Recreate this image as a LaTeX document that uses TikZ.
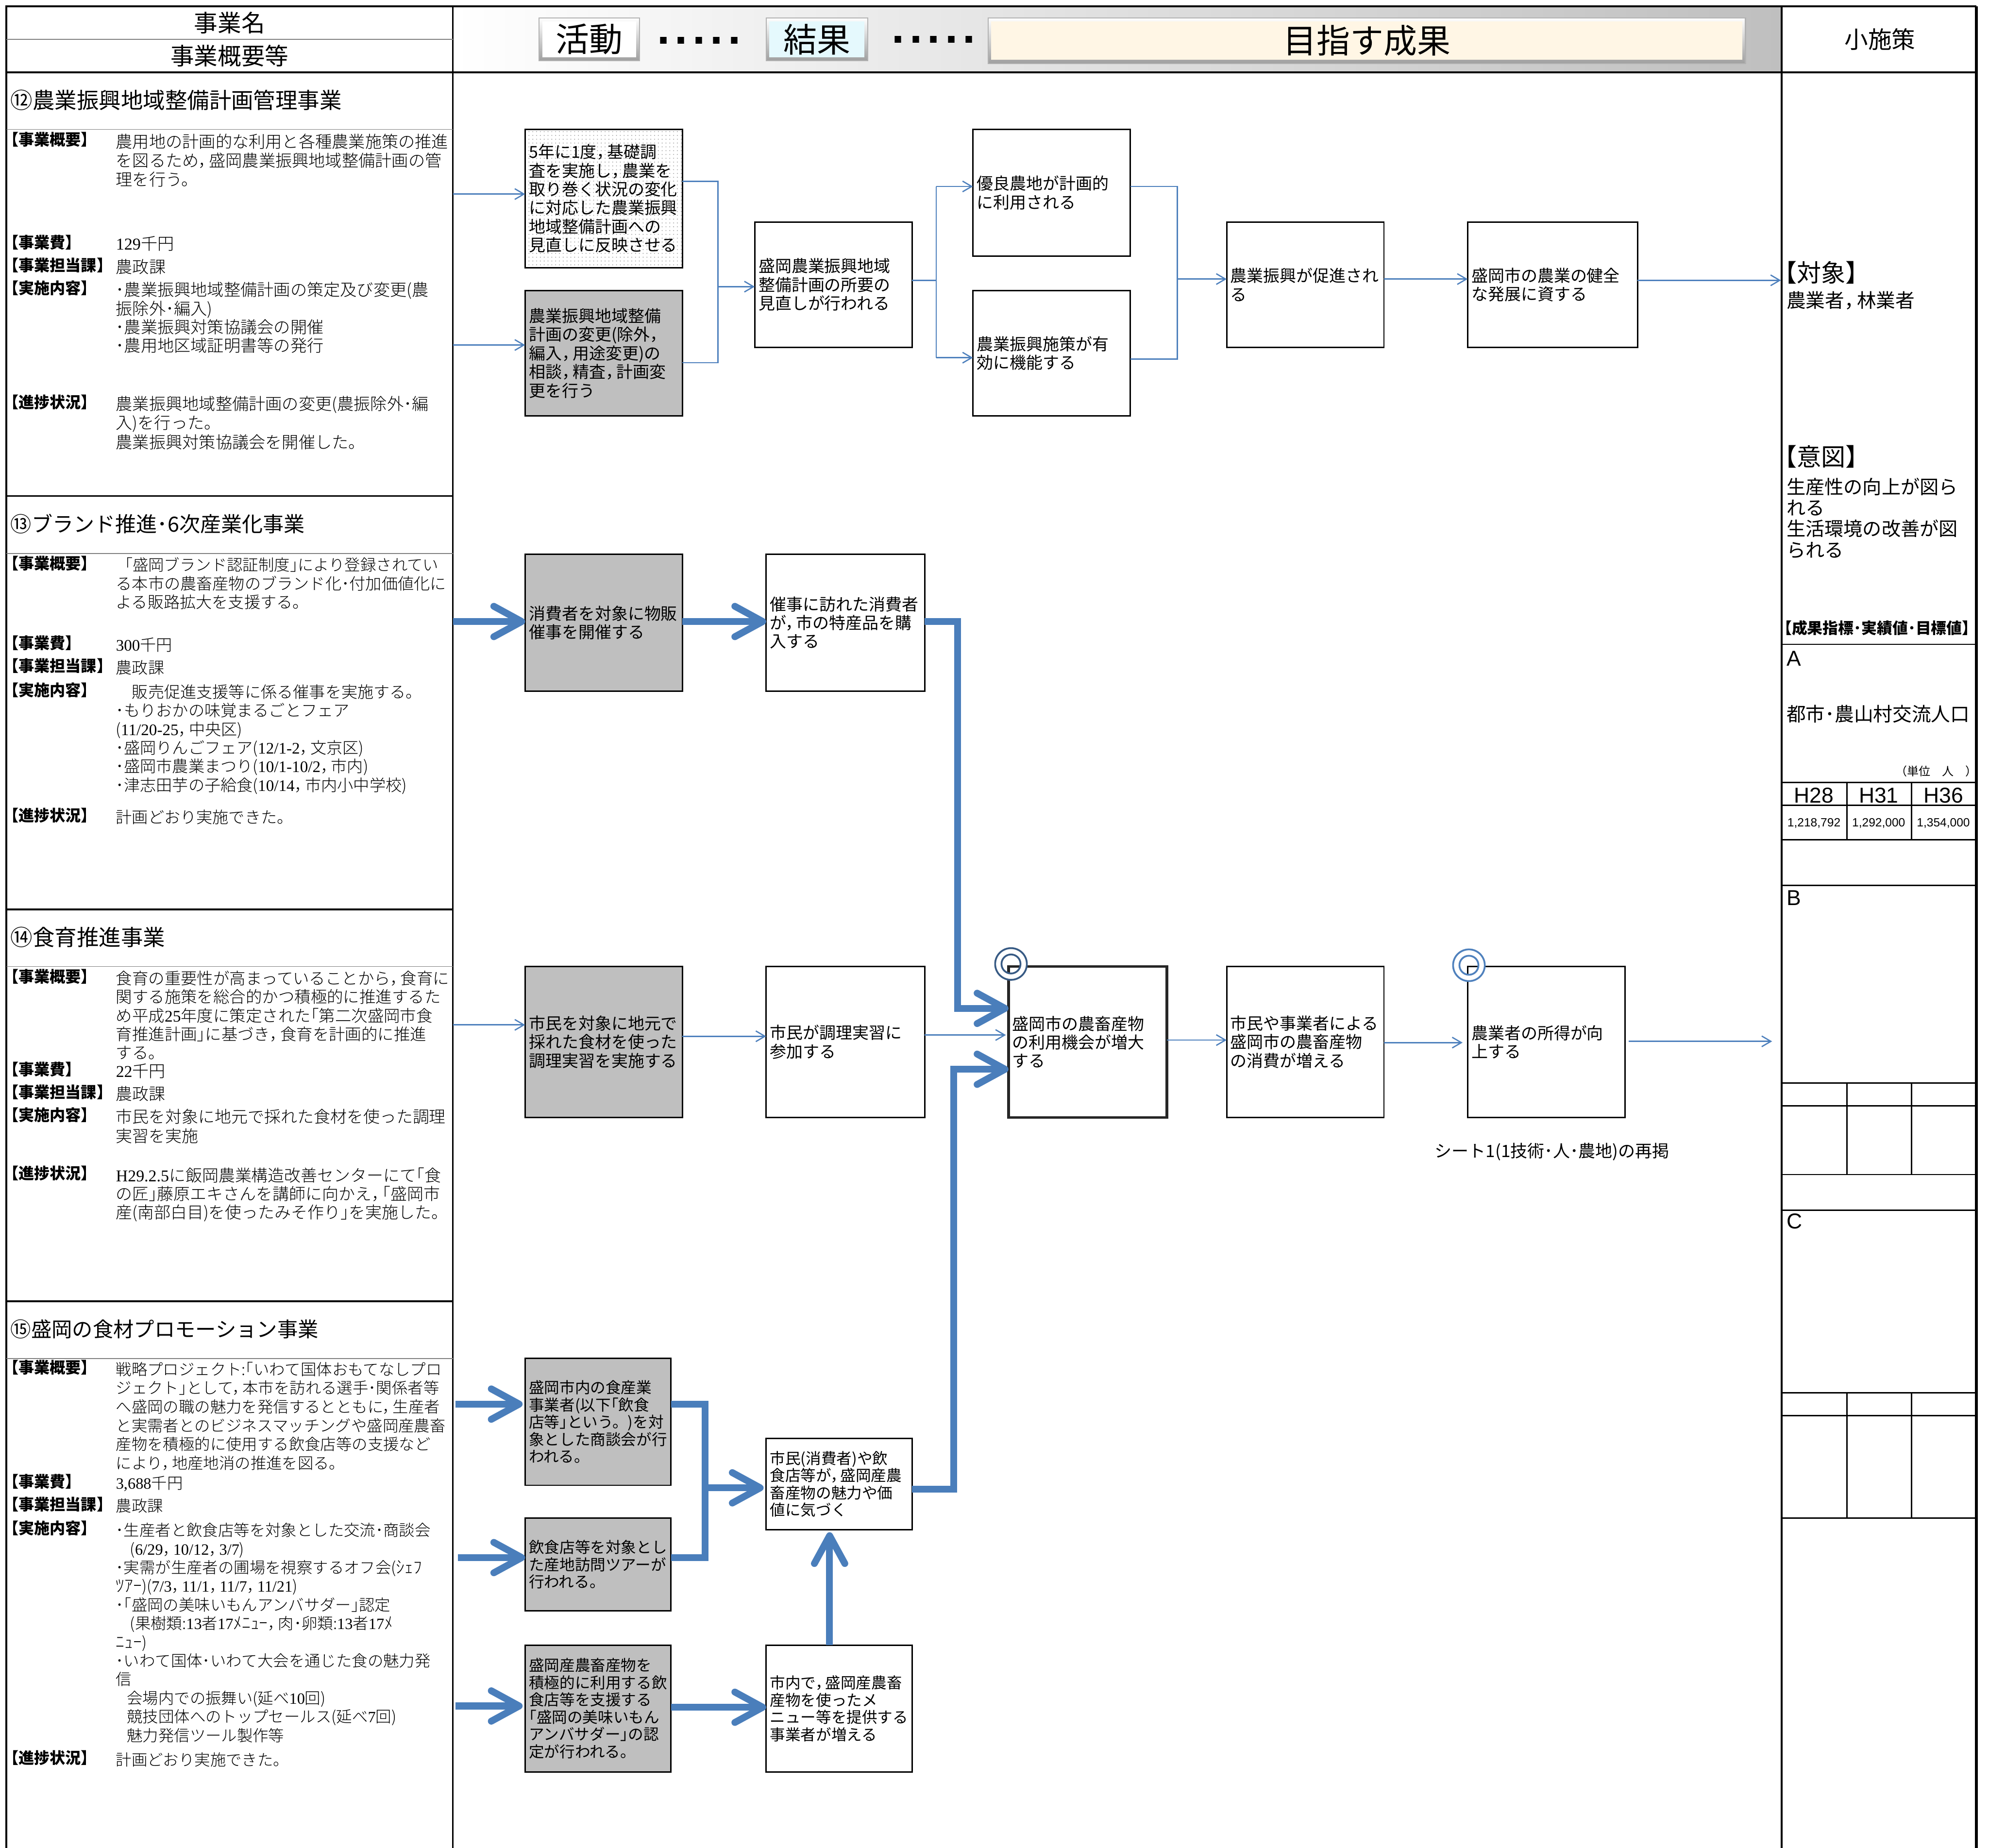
\documentclass[tikz,border=0pt]{standalone}
\usepackage{fontspec}
\usetikzlibrary{arrows.meta,patterns.meta,calc}
\setmainfont{Noto Sans CJK JP}
\newfontfamily\lightf{Noto Sans CJK JP Light}
\newfontfamily\serifd{Liberation Serif}
\newfontfamily\arial{Liberation Sans}
\definecolor{flowblue}{HTML}{4F81BD}
\definecolor{heavyblue}{HTML}{4A7EBB}
\definecolor{boxgray}{HTML}{BFBFBF}
\definecolor{btnblue}{HTML}{E5F9FD}
\definecolor{btncream}{HTML}{FFF6E5}
\catcode"FF0C=13
\def，{\char"FF0C \kern-.35em\relax}
\newcommand\fs[2]{\fontsize{#1}{#2}\selectfont\lineskiplimit=-6pt\relax}
\newcommand\dg[1]{{\serifd #1}}
\newcommand\hw[1]{{\fontsize{6.8}{7}\selectfont #1}}
\tikzset{
  flowbox/.style={draw=black,line width=0.55pt,inner xsep=1.5pt,inner ysep=0pt,align=left,outer sep=0pt,font=\fs{6.5}{7.35}},
  grayfill/.style={fill=boxgray},
  dotfill/.style={pattern={Dots[distance=1.5pt,radius=0.22pt]},pattern color=gray!70},
  smallbox/.style={font=\fs{6.05}{6.8}},
  hubbox/.style={line width=1.1pt,draw=black!85},
  thinline/.style={draw=flowblue,line width=0.5pt},
  thinarrow/.style={thinline,-{Straight Barb[length=3.6pt,width=4.2pt]}},
  heavyline/.style={draw=heavyblue,line width=2.7pt,miter limit=10},
  heavyarrow/.style={heavyline,-{Straight Barb[length=11pt,width=12pt,round]}},
  rule/.style={draw=black,line width=0.55pt},
  thickrule/.style={draw=black,line width=0.7pt},
  softrule/.style={draw=gray,line width=0.35pt},
  lab/.style={inner sep=0pt,anchor=west,font=\bfseries\fs{6.15}{7}},
  ttl/.style={inner sep=0pt,anchor=west,font=\fs{8.7}{10}},
  txt/.style={inner sep=0pt,anchor=north west,align=left},
  side/.style={inner sep=0pt,anchor=west,font=\fs{7.4}{8.3}},
  heada/.style={inner sep=0pt,font=\fs{9.3}{11}},
  ring/.style={line width=0.7pt},
}
\newcommand\bx[7][]{\pgfmathsetmacro\tw{(#5-#3)*0.5-3}%
  \node[flowbox,#1,anchor=north west,minimum width={(#5-#3)*0.5pt},minimum height={(#6-#4)*0.5pt},text width=\tw pt] (#2) at (#3,#4) {#7};}
% name, x, y(first line centre), size, pitch, text
\newcommand\tx[6]{\pgfmathsetmacro\tt{#3-0.76*#4}\pgfmathsetmacro\pp{#5*0.5}%
  \node[txt,font=\lightf\fs{#4}{\pp pt}] (#1) at (#2,\tt) {#6};}
\newcommand\txs[6]{\pgfmathsetmacro\tt{#3-0.76*#4}\pgfmathsetmacro\pp{#5*0.5}%
  \node[txt,font=\fs{#4}{\pp pt}] (#1) at (#2,\tt) {#6};}
\newcommand\btn[7]{%
  \path[draw=gray!60,line width=0.4pt,top color=white,bottom color=gray!75] (#2,#3) rectangle (#4,#5);
  \fill[#6] ({#2+2.5},{#3+3}) rectangle ({#4-2.5},{#5-3});
  \node[inner sep=0pt,font=\fs{13.2}{15}] (#1) at ({(#2+#4)/2},{(#3+#5)/2}) {#7};}
\begin{document}
\begin{tikzpicture}[x=0.5pt,y=-0.5pt]
\useasboundingbox (0,0) rectangle (1568,1456.8);
\fill[white] (0,0) rectangle (1568,1456.8);
% header band
\shade[left color=white,right color=boxgray] (357,5) rectangle (1404.5,57);
\btn{hk}{425}{14}{504}{48}{white}{活動}
\btn{hr}{604}{14}{684}{48}{btnblue}{結果}
\btn{hg}{779}{14}{1376}{50}{btncream}{目指す成果}
\node[inner sep=0pt,anchor=base,font=\arial\bfseries\fontsize{18}{20}\selectfont] (d1) at (551,34.8) {.\kern2pt.\kern2pt.\kern2pt.\kern2pt.};
\node[inner sep=0pt,anchor=base,font=\arial\bfseries\fontsize{18}{20}\selectfont] (d2) at (736,33.8) {.\kern2pt.\kern2pt.\kern2pt.\kern2pt.};
% frame
\draw[thickrule] (5,1456.8) -- (5,5) -- (1558,5);
\draw[thickrule] (5,57) -- (1558,57);
\draw[thickrule] (357,5) -- (357,1456.8);
\draw[thickrule] (1404.5,5) -- (1404.5,1456.8);
\draw[draw=black,line width=1pt] (1558,5) -- (1558,1456.8);
\draw[softrule] (5,31) -- (357,31);
\foreach \yy in {391,717,1026} {\draw[thickrule] (5,\yy) -- (357,\yy);}
\foreach \yy in {102,436.5,762,1071} {\draw[softrule] (5,\yy) -- (357,\yy);}
\node[heada] (h1) at (181,18) {事業名};
\node[heada] (h2) at (181,44) {事業概要等};
\node[heada] (h3) at (1482,31) {小施策};

% section 12
\node[ttl] (t12) at (8,79) {⑫農業振興地域整備計画管理事業};
\node[lab] (a1) at (2,110) {【事業概要】};
\tx{b1}{91}{110}{6.55}{15}{農用地の計画的な利用と各種農業施策の推進\\を図るため，盛岡農業振興地域整備計画の管\\理を行う。}
\node[lab] (a2) at (2,191) {【事業費】};
\tx{b2}{91}{191}{6.55}{15}{\dg{129}千円}
\node[lab] (a3) at (2,209) {【事業担当課】};
\tx{b3}{91}{209}{6.55}{15}{農政課}
\node[lab] (a4) at (2,227) {【実施内容】};
\tx{b4}{91}{227}{6.55}{14.7}{･農業振興地域整備計画の策定及び変更(農\\振除外･編入)\\･農業振興対策協議会の開催\\･農用地区域証明書等の発行}
\node[lab] (a5) at (2,317) {【進捗状況】};
\tx{b5}{91}{317}{6.55}{15}{農業振興地域整備計画の変更(農振除外･編\\入)を行った。\\農業振興対策協議会を開催した。}

% section 13
\node[ttl,font=\fs{8.25}{10}] (t13) at (8,413) {⑬ブランド推進･6次産業化事業};
\node[lab] (a6) at (2,444) {【事業概要】};
\tx{b6}{91}{444}{6.35}{14.7}{\kern.55em{\fontsize{6.2}{7}\selectfont ｢盛岡ブランド認証制度｣により登録されてい}\\る本市の農畜産物のブランド化･付加価値化に\\よる販路拡大を支援する。}
\node[lab] (a7) at (2,507) {【事業費】};
\tx{b7}{91}{507}{6.35}{15}{\dg{300}千円}
\node[lab] (a8) at (2,525) {【事業担当課】};
\tx{b8}{91}{525}{6.35}{15}{農政課}
\node[lab] (a9) at (2,544) {【実施内容】};
\tx{b9}{91}{544}{6.35}{14.7}{　販売促進支援等に係る催事を実施する。\\･もりおかの味覚まるごとフェア\\(\dg{11/20-25}，中央区)\\･盛岡りんごフェア(\dg{12/1-2}，文京区)\\･盛岡市農業まつり(\dg{10/1-10/2}，市内)\\･津志田芋の子給食(\dg{10/14}，市内小中学校)}
\node[lab] (a10) at (2,643) {【進捗状況】};
\tx{b10}{91}{643}{6.35}{15}{計画どおり実施できた。}

% section 14
\node[ttl] (t14) at (8,739) {⑭食育推進事業};
\node[lab] (a11) at (2,770) {【事業概要】};
\tx{b11}{91}{770}{6.4}{14.6}{食育の重要性が高まっていることから，食育に\\関する施策を総合的かつ積極的に推進するた\\め平成\dg{25}年度に策定された｢第二次盛岡市食\\育推進計画｣に基づき，食育を計画的に推進\\する。}
\node[lab] (a12) at (2,843) {【事業費】};
\tx{b12}{91}{843}{6.5}{15}{\dg{22}千円}
\node[lab] (a13) at (2,861) {【事業担当課】};
\tx{b13}{91}{861}{6.5}{15}{農政課}
\node[lab] (a14) at (2,879) {【実施内容】};
\tx{b14}{91}{879}{6.5}{15}{市民を対象に地元で採れた食材を使った調理\\実習を実施}
\node[lab] (a15) at (2,925) {【進捗状況】};
\tx{b15}{91}{925}{6.5}{14.6}{\dg{H29.2.5}に飯岡農業構造改善センターにて｢食\\の匠｣藤原エキさんを講師に向かえ，｢盛岡市\\産(南部白目)を使ったみそ作り｣を実施した。}

% section 15
\node[ttl,font=\fs{8.1}{10}] (t15) at (8,1048) {⑮盛岡の食材プロモーション事業};
\node[lab] (a16) at (2,1078) {【事業概要】};
\tx{b16}{91}{1078}{6.2}{14.8}{戦略プロジェクト:｢いわて国体おもてなしプロ\\ジェクト｣として，本市を訪れる選手･関係者等\\へ盛岡の職の魅力を発信するとともに，生産者\\と実需者とのビジネスマッチングや盛岡産農畜\\産物を積極的に使用する飲食店等の支援など\\により，地産地消の推進を図る。}
\node[lab] (a17) at (2,1168) {【事業費】};
\tx{b17}{91}{1168}{6.2}{15}{\dg{3,688}千円}
\node[lab] (a18) at (2,1186) {【事業担当課】};
\tx{b18}{91}{1186}{6.2}{15}{農政課}
\node[lab] (a19) at (2,1205) {【実施内容】};
\tx{b19}{91}{1205}{6.2}{14.7}{･生産者と飲食店等を対象とした交流･商談会\\\kern.9em(\dg{6/29}，\dg{10/12}，\dg{3/7})\\･実需が生産者の圃場を視察するオフ会(\hw{ｼｪﾌ}\\\hw{ﾂｱｰ})(\dg{7/3}，\dg{11/1}，\dg{11/7}，\dg{11/21})\\･｢盛岡の美味いもんアンバサダー｣認定\\\kern.9em(果樹類:\dg{13}者\dg{17}\hw{ﾒﾆｭｰ}，肉･卵類:\dg{13}者\dg{17}\hw{ﾒ}\\\hw{ﾆｭｰ})\\･いわて国体･いわて大会を通じた食の魅力発\\信\\\kern.7em 会場内での振舞い(延べ\dg{10}回)\\\kern.7em 競技団体へのトップセールス(延べ\dg{7}回)\\\kern.7em 魅力発信ツール製作等}
\node[lab] (a20) at (2,1386) {【進捗状況】};
\tx{b20}{91}{1386}{6.2}{15}{計画どおり実施できた。}

% flow boxes
\bx[dotfill]{A1}{414}{102}{538}{211}{5年に1度，基礎調\\査を実施し，農業を\\取り巻く状況の変化\\に対応した農業振興\\地域整備計画への\\見直しに反映させる}
\bx[grayfill]{A2}{414}{229}{538}{328}{農業振興地域整備\\計画の変更(除外，\\編入，用途変更)の\\相談，精査，計画変\\更を行う}
\bx{A3}{595}{175}{719}{274}{盛岡農業振興地域\\整備計画の所要の\\見直しが行われる}
\bx{A4}{767}{102}{891}{202}{優良農地が計画的\\に利用される}
\bx{A5}{767}{229}{891}{328}{農業振興施策が有\\効に機能する}
\bx{A6}{967}{175}{1091}{274}{農業振興が促進され\\る}
\bx{A7}{1157}{175}{1291}{274}{盛岡市の農業の健全\\な発展に資する}
\bx[grayfill]{B1}{414}{437}{538}{545}{消費者を対象に物販\\催事を開催する}
\bx{B2}{604}{437}{729}{545}{催事に訪れた消費者\\が，市の特産品を購\\入する}
\bx[grayfill]{C1}{414}{762}{538}{881}{市民を対象に地元で\\採れた食材を使った\\調理実習を実施する}
\bx{C2}{604}{762}{729}{881}{市民が調理実習に\\参加する}
\bx[hubbox]{D}{795}{762}{920}{881}{盛岡市の農畜産物\\の利用機会が増大\\する}
\bx{E}{967}{762}{1091}{881}{市民や事業者による\\盛岡市の農畜産物\\の消費が増える}
\bx{F}{1157}{762}{1281}{881}{農業者の所得が向\\上する}
\bx[grayfill,smallbox]{G1}{414}{1071}{529}{1171}{盛岡市内の食産業\\事業者(以下｢飲食\\店等｣という。)を対\\象とした商談会が行\\われる。}
\bx[grayfill,smallbox]{G2}{414}{1197}{529}{1270}{飲食店等を対象とし\\た産地訪問ツアーが\\行われる。}
\bx[grayfill,smallbox]{G3}{414}{1297}{529}{1397}{盛岡産農畜産物を\\積極的に利用する飲\\食店等を支援する\\｢盛岡の美味いもん\\アンバサダー｣の認\\定が行われる。}
\bx[smallbox]{H1}{604}{1134}{719}{1206}{市民(消費者)や飲\\食店等が，盛岡産農\\畜産物の魅力や価\\値に気づく}
\bx[smallbox]{H2}{604}{1297}{719}{1397}{市内で，盛岡産農畜\\産物を使ったメ\\ニュー等を提供する\\事業者が増える}

% rings
\coordinate (r1) at (797,760);
\coordinate (r2) at (1158,761);
\path[fill=white,even odd rule] (r1) circle[radius=12.5] (r1) circle[radius=7.5];
\path[fill=white,even odd rule] (r2) circle[radius=12.5] (r2) circle[radius=7.5];
\draw[ring,draw=flowblue!70!black] (r1) circle[radius=12.5] (r1) circle[radius=7.5];
\draw[ring,draw=flowblue] (r2) circle[radius=12.5] (r2) circle[radius=7.5];

% thin connectors: row A
\coordinate (inA1) at (357,153);
\coordinate (inA2) at (357,272);
\coordinate (j1) at (566,143);
\coordinate (j2) at (566,286);
\coordinate (j3) at (566,226);
\coordinate (j4) at (738,221);
\coordinate (j5) at (738,147);
\coordinate (j6) at (738,282);
\coordinate (j7) at (928,147);
\coordinate (j8) at (928,283);
\coordinate (j9) at (928,220);
\coordinate (outA) at (1404,221);
\draw[thinarrow] (inA1) -- (A1.west |- inA1);
\draw[thinarrow] (inA2) -- (A2.west |- inA2);
\draw[thinline] (A1.east |- j1) -- (j1) -- (j2) -- (A2.east |- j2);
\draw[thinarrow] (j3) -- (A3.west |- j3);
\draw[thinline] (A3.east |- j4) -- (j4);
\draw[thinline] (j5) -- (j6);
\draw[thinarrow] (j5) -- (A4.west |- j5);
\draw[thinarrow] (j6) -- (A5.west |- j6);
\draw[thinline] (A4.east |- j7) -- (j7) -- (j8) -- (A5.east |- j8);
\draw[thinarrow] (j9) -- (A6.west |- j9);
\draw[thinarrow] (A6.east |- j9) -- (A7.west |- j9);
\draw[thinarrow] (A7.east |- outA) -- (outA);
% row C thin
\coordinate (inC) at (357,808);
\coordinate (c1) at (571,817);
\coordinate (c2) at (760,816);
\coordinate (c3) at (943,820);
\coordinate (c4) at (1124,822);
\coordinate (fromF) at (1284,821);
\coordinate (outF) at (1397,821);
\draw[thinarrow] (inC) -- (C1.west |- inC);
\draw[thinarrow] (C1.east |- c1) -- (C2.west |- c1);
\draw[thinarrow] (C2.east |- c2) -- ($(D.west |- c2)+(-2,0)$);
\draw[thinarrow] (D.east |- c3) -- (E.west |- c3);
\draw[thinarrow] (E.east |- c4) -- ($(F.west |- c4)+(-4,0)$);
\draw[thinarrow] (fromF) -- (outF);
% heavy connectors
\coordinate (inB) at (357,490);
\coordinate (k1) at (755,490);
\coordinate (k2) at (755,795);
\coordinate (k3) at (752,1174);
\coordinate (k4) at (752,843);
\coordinate (inG1) at (359,1107);
\coordinate (inG2) at (361,1228);
\coordinate (inG3) at (359,1345);
\coordinate (m1) at (556,1107);
\coordinate (m2) at (556,1228);
\coordinate (m3) at (556,1173);
\coordinate (m4) at (604,1346);
\draw[heavyarrow] (inB) -- (B1.west |- inB);
\draw[heavyarrow] (B1.east |- inB) -- (B2.west |- inB);
\draw[heavyarrow] (B2.east |- inB) -- (k1) -- (k2) -- (D.west |- k2);
\draw[heavyarrow] (inG1) -- ($(G1.west |- inG1)+(-2,0)$);
\draw[heavyarrow] (inG2) -- (G2.west |- inG2);
\draw[heavyarrow] (inG3) -- ($(G3.west |- inG3)+(-2,0)$);
\draw[heavyline] (G1.east |- m1) -- (m1) -- (m2) -- (G2.east |- m2);
\draw[heavyarrow] (m3) -- ($(H1.west |- m3)+(-2,0)$);
\draw[heavyarrow] (G3.east |- m4) -- (H2.west |- m4);
\draw[heavyarrow] (H2.north -| 654,0) -- ($(H1.south -| 654,0)+(0,2)$);
\draw[heavyarrow] (H1.east |- k3) -- (k3) -- (k4) -- (D.west |- k4);

\node[inner sep=0pt,font=\fs{6.7}{8}] (note) at (1223.5,908) {シート1(1技術･人･農地)の再掲};

% right column
\node[inner sep=0pt,anchor=west,font=\fs{9.6}{10}] (s1) at (1397,215) {【対象】};
\node[side,font=\fs{7.6}{9}] (s2) at (1408,237) {農業者，林業者};
\node[inner sep=0pt,anchor=west,font=\fs{9.6}{10}] (s3) at (1397,360) {【意図】};
\txs{s4}{1408}{382}{7.5}{16.6}{生産性の向上が図ら\\れる\\生活環境の改善が図\\られる}
\node[inner sep=0pt,anchor=west,font=\bfseries\fs{6.1}{7}] (s5) at (1400,495) {【成果指標･実績値･目標値】};
\node[inner sep=0pt,anchor=west,font=\arial\fontsize{8.5}{10}\selectfont] (s6) at (1408,519) {A};
\node[inner sep=0pt,anchor=west,font=\fs{7.6}{9}] (s7) at (1408,563) {都市･農山村交流人口};
\node[inner sep=0pt,anchor=east,font=\fs{4.6}{6}] (s8) at (1559,608) {（単位　人　）};
\foreach \yy in {508,617,635,662,698,854,872,926,954,1098,1116,1197} {\draw[rule] (1404.5,\yy) -- (1558,\yy);}
\foreach \xx in {1456,1507} {\draw[rule] (\xx,617) -- (\xx,662) (\xx,854) -- (\xx,926) (\xx,1098) -- (\xx,1197);}
\node[inner sep=0pt,font=\arial\fontsize{8.5}{10}\selectfont] (y1) at (1430,627) {H28};
\node[inner sep=0pt,font=\arial\fontsize{8.5}{10}\selectfont] (y2) at (1481,627) {H31};
\node[inner sep=0pt,font=\arial\fontsize{8.5}{10}\selectfont] (y3) at (1532,627) {H36};
\node[inner sep=0pt,font=\arial\fontsize{4.7}{6}\selectfont] (v1) at (1430,649) {1,218,792};
\node[inner sep=0pt,font=\arial\fontsize{4.7}{6}\selectfont] (v2) at (1481,649) {1,292,000};
\node[inner sep=0pt,font=\arial\fontsize{4.7}{6}\selectfont] (v3) at (1532,649) {1,354,000};
\node[inner sep=0pt,anchor=west,font=\arial\fontsize{8.5}{10}\selectfont] (s9) at (1408,708) {B};
\node[inner sep=0pt,anchor=west,font=\arial\fontsize{8.5}{10}\selectfont] (s10) at (1408,963) {C};
\end{tikzpicture}
\end{document}
